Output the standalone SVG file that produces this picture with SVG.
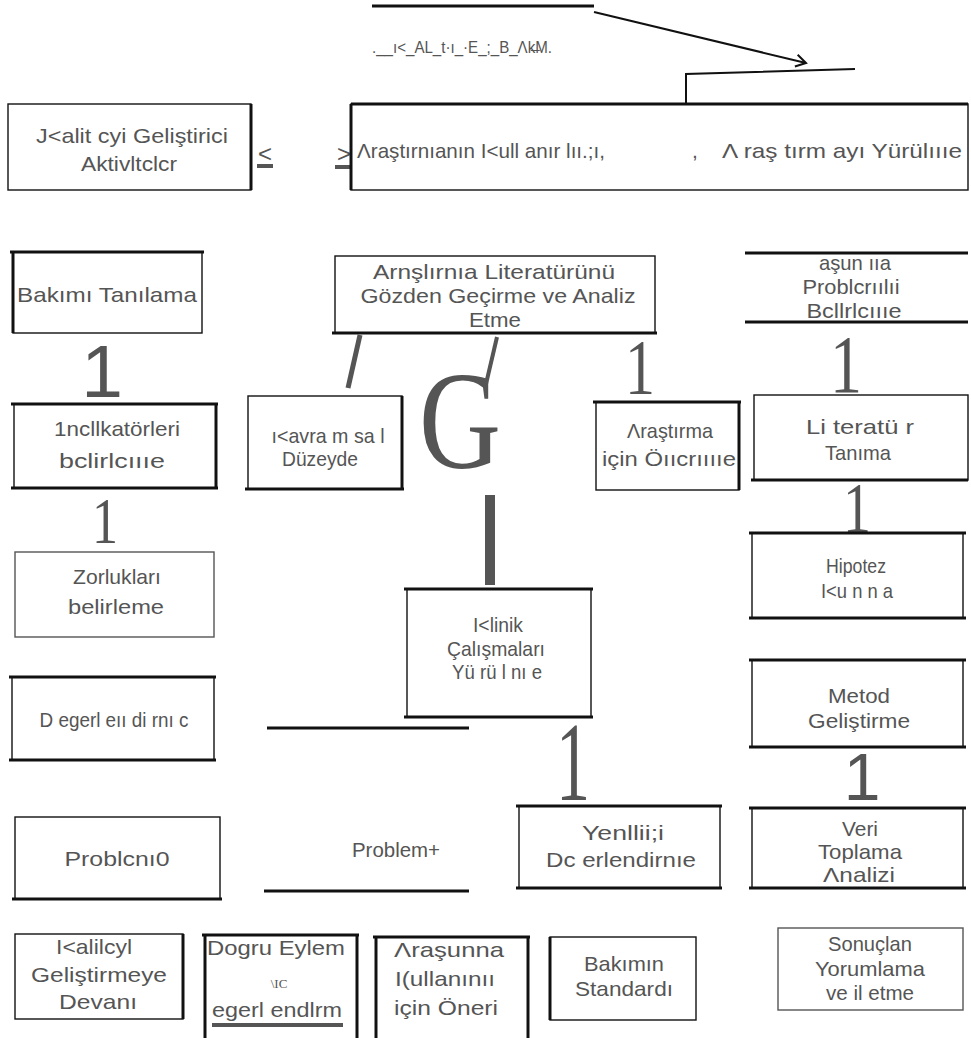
<svg xmlns="http://www.w3.org/2000/svg" width="971" height="1038" viewBox="0 0 971 1038">
<style>
.b{fill:none;stroke:#111;stroke-width:1.4}
.bt{fill:none;stroke:#555;stroke-width:1.4}
.e{stroke:#111;stroke-width:3;fill:none}
.t{font-family:"Liberation Sans",Arial,sans-serif;fill:#555}
.m{text-anchor:middle}
.big{font-family:"Liberation Serif","Times New Roman",serif;fill:#555;text-anchor:middle}
.bigs{font-family:"Liberation Sans",Arial,sans-serif;fill:#555;text-anchor:middle}
.c{stroke:#111;stroke-width:2;fill:none}
.g{stroke:#555;fill:none}
</style>
<defs>
<marker id="ah" markerWidth="14" markerHeight="14" refX="12" refY="7" orient="auto" markerUnits="userSpaceOnUse">
<path d="M2,1 L12,7 L2,13" fill="none" stroke="#111" stroke-width="2"/>
</marker>
</defs>
<rect width="971" height="1038" fill="#fff"/>
<g font-size="21">

<g id="connectors">
<line class="e" x1="372" y1="6" x2="594" y2="6"/>
<line class="c" x1="594" y1="12" x2="806" y2="63" marker-end="url(#ah)"/>
<polyline class="c" points="686,104 686,74 855,69"/>
<line class="g" x1="360" y1="335" x2="348" y2="388" stroke-width="5"/>
<line class="g" x1="497" y1="337" x2="486" y2="384" stroke-width="4"/>
<rect x="485" y="495" width="10" height="90" fill="#555"/>
<line class="e" x1="267" y1="728" x2="469" y2="728" stroke-width="2.5"/>
<line class="e" x1="264" y1="891" x2="469" y2="891" stroke-width="2.5"/>
<line class="e" x1="745" y1="253" x2="968" y2="253"/>
<line class="e" x1="745" y1="322" x2="968" y2="322"/>
<text class="bigs" x="102" y="397" font-size="75">1</text>
<text class="big" x="640" y="393" font-size="78" textLength="30" lengthAdjust="spacingAndGlyphs">1</text>
<text class="big" x="846" y="392" font-size="82" textLength="32" lengthAdjust="spacingAndGlyphs">1</text>
<text class="big" x="105" y="543" font-size="66" textLength="26" lengthAdjust="spacingAndGlyphs">1</text>
<text class="big" x="857" y="532" font-size="72" textLength="28" lengthAdjust="spacingAndGlyphs">1</text>
<text class="big" x="573" y="800" font-size="112" textLength="34" lengthAdjust="spacingAndGlyphs">1</text>
<text class="bigs" x="862" y="800" font-size="66">1</text>
<text class="big" x="460" y="468" font-size="140" textLength="82" lengthAdjust="spacingAndGlyphs">G</text>
<text class="t m" x="265" y="162" font-size="24">&lt;</text>
<rect x="257" y="164" width="16" height="4" fill="#555"/>
<text class="t m" x="344" y="162" font-size="24">&gt;</text>
<rect x="335" y="165" width="17" height="4" fill="#555"/>
</g>

<g id="title">
<text class="t" x="372" y="53" font-size="17" textLength="180" lengthAdjust="spacingAndGlyphs">.__ı&lt;_AL_t·ı_·E_;_B_Λk̶M.</text>
</g>

<g id="n1">
<rect class="b" x="8" y="104" width="243" height="86"/>
<line class="e" x1="251" y1="104" x2="251" y2="190"/>
<text class="t m" x="132" y="143" textLength="192" lengthAdjust="spacingAndGlyphs">J&lt;alit cyi Geliştirici</text>
<text class="t m" x="129" y="171" textLength="96" lengthAdjust="spacingAndGlyphs">Aktivltclcr</text>
</g>

<g id="n2">
<rect class="b" x="351" y="104" width="617" height="86"/>
<line class="e" x1="351" y1="104" x2="968" y2="104"/>
<line class="e" x1="351" y1="104" x2="351" y2="190"/>
<text class="t" x="357" y="158" textLength="248" lengthAdjust="spacingAndGlyphs">Λraştırnıanın I&lt;ull anır lıı.;ı,</text>
<text class="t m" x="695" y="158">,</text>
<text class="t" x="722" y="158" textLength="240" lengthAdjust="spacingAndGlyphs">Λ raş tırm ayı Yürülıııe</text>
</g>

<g id="n3">
<rect class="b" x="13" y="252" width="189" height="81"/>
<line class="e" x1="10" y1="252" x2="204" y2="252"/>
<line class="e" x1="13" y1="252" x2="13" y2="333"/>
<text class="t m" x="107" y="302" textLength="180" lengthAdjust="spacingAndGlyphs">Bakımı Tanılama</text>
</g>

<g id="n4">
<rect class="b" x="335" y="256" width="320" height="77"/>
<line class="e" x1="332" y1="333" x2="657" y2="333"/>
<text class="t m" x="494" y="279" textLength="242" lengthAdjust="spacingAndGlyphs">Arnşlırnıa Literatürünü</text>
<text class="t m" x="498" y="303" textLength="275" lengthAdjust="spacingAndGlyphs">Gözden Geçirme ve Analiz</text>
<text class="t m" x="495" y="327" textLength="52" lengthAdjust="spacingAndGlyphs">Etme</text>
</g>

<g id="n5">
<text class="t m" x="855" y="270" textLength="72" lengthAdjust="spacingAndGlyphs">aşun ııa</text>
<text class="t m" x="851" y="294" textLength="97" lengthAdjust="spacingAndGlyphs">Problcrıılıi</text>
<text class="t m" x="854" y="318" textLength="95" lengthAdjust="spacingAndGlyphs">Bcllrlcıııe</text>
</g>

<g id="n6">
<rect class="b" x="14" y="404" width="202" height="84"/>
<line class="e" x1="11" y1="404" x2="218" y2="404"/>
<line class="e" x1="11" y1="488" x2="218" y2="488"/>
<line class="e" x1="216" y1="404" x2="216" y2="488"/>
<text class="t m" x="117" y="436" textLength="126" lengthAdjust="spacingAndGlyphs">1ncllkatörleri</text>
<text class="t m" x="112" y="468" textLength="106" lengthAdjust="spacingAndGlyphs">bclirlcıııe</text>
</g>

<g id="n7">
<rect class="b" x="248" y="396" width="154" height="93"/>
<line class="e" x1="245" y1="489" x2="404" y2="489"/>
<line class="e" x1="402" y1="396" x2="402" y2="489"/>
<text class="t m" x="328" y="443" textLength="113" lengthAdjust="spacingAndGlyphs">ı&lt;avra m sa l</text>
<text class="t m" x="320" y="466" textLength="76" lengthAdjust="spacingAndGlyphs">Düzeyde</text>
</g>

<g id="n8">
<rect class="b" x="596" y="402" width="143" height="88"/>
<line class="e" x1="593" y1="402" x2="741" y2="402"/>
<line class="e" x1="739" y1="402" x2="739" y2="490"/>
<text class="t m" x="670" y="438" textLength="86" lengthAdjust="spacingAndGlyphs">Λraştırma</text>
<text class="t m" x="669" y="466" textLength="134" lengthAdjust="spacingAndGlyphs">için Öııcrııııe</text>
</g>

<g id="n9">
<rect class="b" x="754" y="395" width="214" height="85"/>
<line class="e" x1="751" y1="480" x2="968" y2="480"/>
<text class="t m" x="860" y="434" textLength="108" lengthAdjust="spacingAndGlyphs">Li teratü r</text>
<text class="t m" x="858" y="460" textLength="66" lengthAdjust="spacingAndGlyphs">Tanıma</text>
</g>

<g id="n10">
<rect class="bt" x="15" y="552" width="199" height="85"/>
<text class="t m" x="117" y="584" textLength="88" lengthAdjust="spacingAndGlyphs">Zorlukları</text>
<text class="t m" x="116" y="614" textLength="96" lengthAdjust="spacingAndGlyphs">belirleme</text>
</g>

<g id="n11">
<rect class="b" x="407" y="589" width="184" height="128"/>
<line class="e" x1="404" y1="589" x2="593" y2="589"/>
<line class="e" x1="404" y1="717" x2="593" y2="717"/>
<text class="t m" x="498" y="632" fill="#333" textLength="50" lengthAdjust="spacingAndGlyphs">I&lt;linik</text>
<text class="t m" x="496" y="656" textLength="98" lengthAdjust="spacingAndGlyphs">Çalışmaları</text>
<text class="t m" x="497" y="679" textLength="90" lengthAdjust="spacingAndGlyphs">Yü rü l nı e</text>
</g>

<g id="n12">
<rect class="b" x="752" y="533" width="211" height="85"/>
<line class="e" x1="749" y1="533" x2="966" y2="533"/>
<line class="e" x1="749" y1="618" x2="966" y2="618"/>
<text class="t m" x="856" y="573" textLength="60" lengthAdjust="spacingAndGlyphs">Hipotez</text>
<text class="t m" x="857" y="598" textLength="72" lengthAdjust="spacingAndGlyphs">I&lt;u n n a</text>
</g>

<g id="n13">
<rect class="b" x="12" y="677" width="202" height="83"/>
<line class="e" x1="9" y1="677" x2="216" y2="677"/>
<line class="e" x1="9" y1="760" x2="216" y2="760"/>
<text class="t m" x="114" y="727" textLength="149" lengthAdjust="spacingAndGlyphs">D egerl eıı di rnı c</text>
</g>

<g id="n14">
<rect class="b" x="752" y="660" width="211" height="87"/>
<line class="e" x1="749" y1="660" x2="966" y2="660"/>
<line class="e" x1="749" y1="747" x2="966" y2="747"/>
<text class="t m" x="859" y="703" textLength="62" lengthAdjust="spacingAndGlyphs">Metod</text>
<text class="t m" x="859" y="728" textLength="102" lengthAdjust="spacingAndGlyphs">Geliştirme</text>
</g>

<g id="n15">
<rect class="b" x="15" y="817" width="205" height="82"/>
<line class="e" x1="12" y1="899" x2="222" y2="899"/>
<text class="t m" x="117" y="866" textLength="105" lengthAdjust="spacingAndGlyphs">Problcnı0</text>
</g>

<g id="n16">
<text class="t m" x="396" y="857" textLength="88" lengthAdjust="spacingAndGlyphs">Problem+</text>
</g>

<g id="n17">
<rect class="b" x="519" y="806" width="201" height="82"/>
<line class="e" x1="516" y1="888" x2="722" y2="888"/>
<line class="e" x1="516" y1="806" x2="722" y2="806" stroke-width="2"/>
<text class="t m" x="623" y="840" textLength="82" lengthAdjust="spacingAndGlyphs">Yenllii;i</text>
<text class="t m" x="621" y="867" textLength="150" lengthAdjust="spacingAndGlyphs">Dc erlendirnıe</text>
</g>

<g id="n18">
<rect class="b" x="752" y="808" width="211" height="80"/>
<line class="e" x1="749" y1="808" x2="966" y2="808"/>
<line class="e" x1="749" y1="888" x2="966" y2="888"/>
<text class="t m" x="860" y="836" textLength="36" lengthAdjust="spacingAndGlyphs">Veri</text>
<text class="t m" x="860" y="859" textLength="84" lengthAdjust="spacingAndGlyphs">Toplama</text>
<text class="t m" x="859" y="882" textLength="72" lengthAdjust="spacingAndGlyphs">Λnalizi</text>
</g>

<g id="n19">
<rect class="b" x="15" y="934" width="168" height="85"/>
<line class="e" x1="183" y1="934" x2="183" y2="1019"/>
<text class="t m" x="94" y="954" textLength="76" lengthAdjust="spacingAndGlyphs">I&lt;alilcyl</text>
<text class="t m" x="99" y="982" textLength="136" lengthAdjust="spacingAndGlyphs">Geliştirmeye</text>
<text class="t m" x="98" y="1009" textLength="78" lengthAdjust="spacingAndGlyphs">Devanı</text>
</g>

<g id="n20">
<rect class="b" x="205" y="935" width="152" height="106"/>
<line class="e" x1="202" y1="935" x2="359" y2="935"/>
<line class="e" x1="205" y1="935" x2="205" y2="1038"/>
<line class="e" x1="357" y1="935" x2="357" y2="1038"/>
<text class="t m" x="276" y="955" textLength="138" lengthAdjust="spacingAndGlyphs">Dogru Eylem</text>
<text x="279" y="988" font-family="'Liberation Serif',serif" font-size="13" fill="#555" text-anchor="middle">\IC</text>
<text class="t m" x="277" y="1017" textLength="130" lengthAdjust="spacingAndGlyphs">egerl endlrm</text>
<rect x="212" y="1023" width="131" height="4" fill="#555"/>
</g>

<g id="n21">
<rect class="b" x="376" y="937" width="152" height="104"/>
<line class="e" x1="373" y1="937" x2="530" y2="937"/>
<line class="e" x1="376" y1="937" x2="376" y2="1038"/>
<line class="e" x1="528" y1="937" x2="528" y2="1038"/>
<text class="t m" x="449" y="957" textLength="110" lengthAdjust="spacingAndGlyphs">Λraşunna</text>
<text class="t m" x="445" y="986" textLength="100" lengthAdjust="spacingAndGlyphs">I(ullanınıı</text>
<text class="t m" x="446" y="1015" textLength="104" lengthAdjust="spacingAndGlyphs">için Öneri</text>
</g>

<g id="n22">
<rect class="b" x="550" y="937" width="146" height="83"/>
<line class="e" x1="550" y1="937" x2="550" y2="1020"/>
<text class="t m" x="624" y="971" textLength="80" lengthAdjust="spacingAndGlyphs">Bakımın</text>
<text class="t m" x="624" y="996" textLength="98" lengthAdjust="spacingAndGlyphs">Standardı</text>
</g>

<g id="n23">
<rect class="bt" x="778" y="928" width="185" height="82"/>
<text class="t m" x="870" y="951" textLength="84" lengthAdjust="spacingAndGlyphs">Sonuçlan</text>
<text class="t m" x="870" y="976" textLength="110" lengthAdjust="spacingAndGlyphs">Yorumlama</text>
<text class="t m" x="870" y="1000" textLength="88" lengthAdjust="spacingAndGlyphs">ve il etme</text>
</g>
</g>
</svg>
